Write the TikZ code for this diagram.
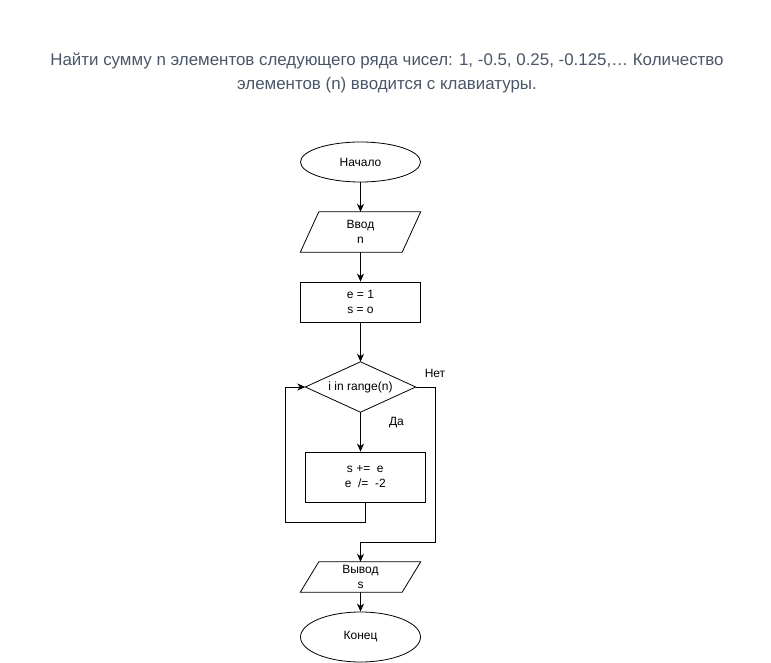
\documentclass[tikz,border=0pt]{standalone}
\usepackage{fontspec}
\setmainfont{Liberation Sans}
\usetikzlibrary{arrows.meta,shapes.geometric,calc}
\definecolor{titlecol}{RGB}{74,85,104}
\tikzset{
  fc/.style={font=\fontsize{12}{15}\selectfont, align=center, inner sep=0pt},
  term/.style={fc, draw, ellipse, minimum width=120pt, line width=0.8pt},
  procbox/.style={fc, draw, rectangle, minimum width=120pt, minimum height=40pt, line width=0.8pt},
  iobox/.style={fc, rectangle, minimum width=120pt},
  conn/.style={line width=0.8pt, -{Stealth[length=8pt,width=7pt,inset=2.5pt]}},
  plain/.style={line width=0.8pt},
  lbl/.style={font=\fontsize{12}{15}\selectfont, inner sep=0pt}
}
\begin{document}
\begin{tikzpicture}[x=1pt,y=-1pt]
\useasboundingbox (0,0) rectangle (771,663);
\node[titlecol, font=\fontsize{16.9}{24}\selectfont, align=center] (title) at (387,73)
  {Найти сумму n элементов следующего ряда чисел: 1, -0.5, 0.25, -0.125,… Количество\\элементов (n) вводится с клавиатуры.};

\node[term, minimum height=40pt] (start) at (360.5,162) {Начало};
\node[iobox, minimum height=40pt] (in) at (360.5,232) {Ввод\\n};
\draw[plain] ([xshift=18.5pt]in.north west) -- (in.north east) -- ([xshift=-18.5pt]in.south east) -- (in.south west) -- cycle;
\node[procbox] (init) at (360.5,302) {e = 1\\s = o};
\node[fc, minimum width=110pt, minimum height=50pt] (cond) at (360.5,387) {i in range(n)};
\draw[plain] (cond.north) -- (cond.east) -- (cond.south) -- (cond.west) -- cycle;
\node[procbox, minimum height=50pt] (body) at (365.3,477) {s +=\ \ e\\e\ \ /=\ \ -2};
\node[iobox, minimum height=30pt] (out) at (360.5,577) {Вывод\\s};
\draw[plain] ([xshift=18.5pt]out.north west) -- (out.north east) -- ([xshift=-18.5pt]out.south east) -- (out.south west) -- cycle;
\node[term, minimum height=50pt] (end) at (360.5,637) {Конец};

\coordinate (loopa) at (365.3,522.3);
\coordinate (loopb) at (285.3,522.3);
\coordinate (loopc) at (285.3,387);
\coordinate (nora) at (435.7,387);
\coordinate (norb) at (435.7,542.3);
\coordinate (norc) at (360.5,542.3);

\draw[conn] (start) -- (in);
\draw[conn] (in) -- (init);
\draw[conn] (init) -- (cond.north);
\draw[conn] (cond.south) -- (cond.south |- body.north);
\draw[conn] (body.south) -- (loopa) -- (loopb) -- (loopc) -- (cond.west);
\draw[conn] (cond.east) -- (nora) -- (norb) -- (norc) -- (out.north);
\draw[conn] (out) -- (end);

\node[lbl, anchor=center] (yes) at (396.5,423) {Да};
\node[lbl, anchor=center] (no) at (435,373) {Нет};
\end{tikzpicture}
\end{document}
